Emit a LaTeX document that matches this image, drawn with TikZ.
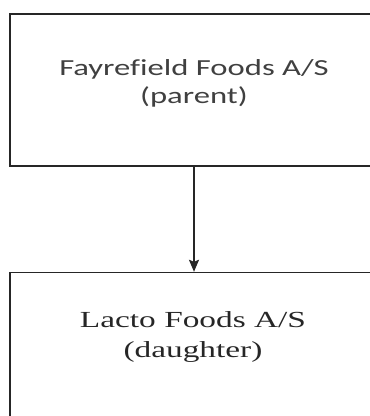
\documentclass[tikz,border=0pt]{standalone}
\usepackage{fontspec}
\newfontfamily\parentfont[FakeStretch=1.42,Ligatures=CommonOff]{Carlito}
\newfontfamily\daughterfont[FakeStretch=1.45]{Liberation Serif}
\usetikzlibrary{arrows.meta,positioning}
\tikzset
{
    company/.style = {rectangle, draw=black!85, line width=1.6pt, minimum width=368pt, minimum height=152pt},
    boxlabel/.style = {align=center, inner sep=0pt}
}

\begin{document}
\begin{tikzpicture}
    [x=1pt,y=1pt,>={Stealth[length=12pt,width=10pt,inset=2pt]}]
    \clip (0,0) rectangle (370,416);
    \node [company] (parent) at (194,326) {};
    \node [company, below=105pt of parent] (daughter) {};
    \node [boxlabel, text=black!75, font=\parentfont\fontsize{23}{28}\selectfont]
      (parenttext) at ([yshift=7pt]parent.center) {Fayrefield Foods A/S\\(parent)};
    \node [boxlabel, text=black!85, font=\daughterfont\fontsize{23}{30}\selectfont]
      (daughtertext) at (193,79) {Lacto Foods A/S\\(daughter)};
    \draw [->, line width=1.6pt, draw=black!85] (parent) -- (daughter);
\end{tikzpicture}
\end{document}
